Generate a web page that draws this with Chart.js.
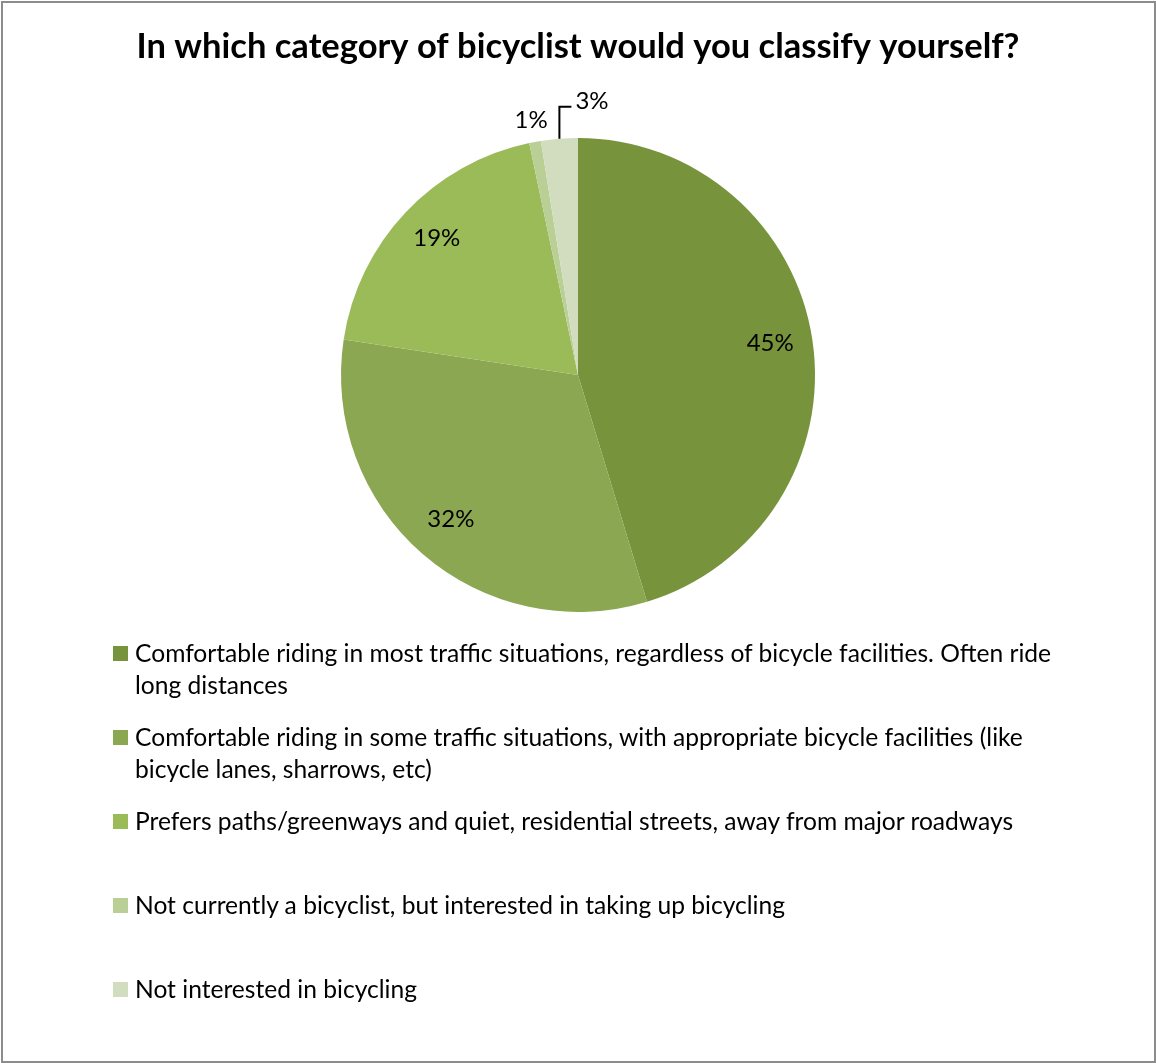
<!DOCTYPE html>
<html>
<head>
<meta charset="utf-8">
<script src="https://cdn.jsdelivr.net/npm/chart.js@4"></script>
<style>
  body { margin: 0; background: #fff; }
  #wrap { position: relative; width: 1156px; height: 1063px; }
  #frame { position: absolute; left: 1px; top: 1px; width: 1155px; height: 1062px;
           box-sizing: border-box; border: 2px solid #8c8c8c; pointer-events: none; }
  #legend { position: absolute; left: 113px; top: 637px; width: 990px;
            font-family: Lato, sans-serif; font-size: 24.6px; color: #000; }
  .item { position: relative; height: 84px; }
  .box { position: absolute; left: 0; top: 9px; width: 15px; height: 15px; }
  .txt { margin-left: 22px; line-height: 32px; max-width: 940px; }
</style>
</head>
<body>
<div id="wrap">
  <canvas id="myCanvas" width="1156" height="1063"></canvas>
  <div id="legend"></div>
  <div id="frame"></div>
</div>
<script>
const titleText = 'In which category of bicyclist would you classify yourself?';
const categories = [
    'Comfortable riding in most traffic situations, regardless of bicycle facilities. Often ride long distances',
    'Comfortable riding in some traffic situations, with appropriate bicycle facilities (like bicycle lanes, sharrows, etc)',
    'Prefers paths/greenways and quiet, residential streets, away from major roadways',
    'Not currently a bicyclist, but interested in taking up bicycling',
    'Not interested in bicycling'
];
const shares = [45.3, 32.1, 19.3, 0.8, 2.5];
const sliceColors = ['#77933c', '#8ba752', '#9bbb59', '#b9cf95', '#d1ddbe'];

// percentage labels, small slices go outside
const pctLabels = {
    id: 'pctLabels',
    afterDatasetsDraw(chart) {
        const ctx = chart.ctx;
        const arcs = chart.getDatasetMeta(0).data;
        ctx.save();
        ctx.font = '24px Lato, sans-serif';
        ctx.fillStyle = '#000';
        ctx.strokeStyle = '#000';
        ctx.lineWidth = 2;
        ctx.textBaseline = 'middle';
        let outsideCount = 0;
        arcs.forEach((arc, i) => {
            const p = arc.getProps(['x', 'y', 'startAngle', 'endAngle', 'outerRadius']);
            const mid = (p.startAngle + p.endAngle) / 2;
            const txt = Math.round(shares[i]) + '%';
            if (shares[i] >= 5) {
                const r = p.outerRadius * 0.82;
                ctx.textAlign = 'center';
                ctx.fillText(txt, p.x + Math.cos(mid) * r, p.y + Math.sin(mid) * r - 3);
            } else if (outsideCount === 0) {
                outsideCount++;
                const r = p.outerRadius + 22;
                ctx.textAlign = 'center';
                ctx.fillText(txt, p.x + Math.cos(mid) * r, p.y + Math.sin(mid) * r);
            } else {
                outsideCount++;
                // leader line
                const ex = p.x + Math.cos(mid) * p.outerRadius;
                const ey = p.y + Math.sin(mid) * p.outerRadius;
                ctx.beginPath();
                ctx.moveTo(ex, ey);
                ctx.lineTo(ex, ey - 32);
                ctx.lineTo(ex + 12, ey - 32);
                ctx.stroke();
                ctx.textAlign = 'left';
                ctx.fillText(txt, ex + 16, ey - 37);
            }
        });
        ctx.restore();
    }
};

const ctx = document.getElementById('myCanvas').getContext('2d');
const myChart = new Chart(ctx, {
    type: 'pie',
    data: {
        labels: categories,
        datasets: [{
            data: shares,
            backgroundColor: sliceColors,
            borderWidth: 0,
            hoverOffset: 0
        }]
    },
    options: {
        responsive: false,
        animation: false,
        events: [],
        layout: { padding: { top: 0, bottom: 451, left: 0, right: 0 } },
        plugins: {
            legend: { display: false },
            tooltip: { enabled: false },
            title: {
                display: true,
                text: titleText,
                color: '#000',
                font: { family: 'Lato', size: 34.5, weight: 'bold' },
                padding: { top: 26, bottom: 70.6 }
            }
        }
    },
    plugins: [pctLabels]
});

// html legend from the same arrays
const legendEl = document.getElementById('legend');
categories.forEach((c, i) => {
    const item = document.createElement('div');
    item.className = 'item';
    item.innerHTML = '<span class="box" style="background:' + sliceColors[i] + '"></span><div class="txt"></div>';
    item.querySelector('.txt').textContent = c;
    legendEl.appendChild(item);
});
</script>
</body>
</html>
